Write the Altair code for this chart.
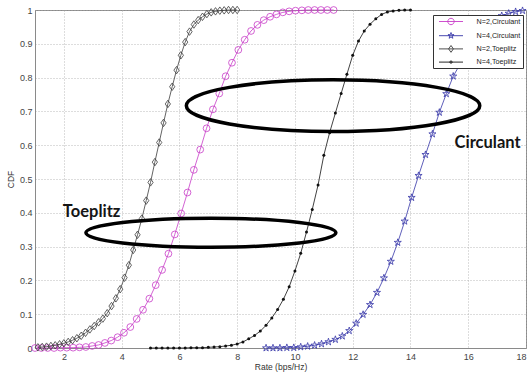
import altair as alt
import pandas as pd

# ---------------- data ----------------
SERIES = ["N=2,Circulant", "N=4,Circulant", "N=2,Toeplitz", "N=4,Toeplitz"]
COLORS = ["#c83cc8", "#3636a8", "#3c3c3c", "#111111"]

circ2_x = [1.00, 1.22, 1.44, 1.66, 1.88, 2.10, 2.32, 2.54, 2.76, 2.98, 3.20, 3.42,
           3.64, 3.86, 4.08, 4.30, 4.52, 4.74, 4.96, 5.18, 5.40, 5.62, 5.84, 6.06,
           6.28, 6.50, 6.72, 6.94, 7.16, 7.38, 7.60, 7.82, 8.04, 8.26, 8.48, 8.70,
           8.92, 9.14, 9.36, 9.58, 9.80, 10.02, 10.24, 10.46, 10.68, 10.90, 11.12, 11.34]
circ2_y = [0.0, 0.0, 0.0, 0.0, 0.001, 0.001, 0.001, 0.002, 0.003, 0.006, 0.009, 0.015,
           0.022, 0.032, 0.045, 0.062, 0.086, 0.113, 0.146, 0.186, 0.231, 0.279, 0.336, 0.398,
           0.46, 0.527, 0.587, 0.65, 0.706, 0.753, 0.804, 0.844, 0.882, 0.912, 0.938, 0.956,
           0.97, 0.98, 0.987, 0.993, 0.996, 0.998, 0.999, 1.0, 1.0, 1.0, 1.0, 1.0]

circ4_x = [9.00, 9.24, 9.48, 9.72, 9.96, 10.20, 10.44, 10.68, 10.92, 11.16, 11.40, 11.64,
           11.88, 12.12, 12.36, 12.60, 12.84, 13.08, 13.32, 13.56, 13.80, 14.04, 14.28, 14.52,
           14.76, 15.00, 15.24, 15.48, 15.72, 15.96, 16.20, 16.44, 16.68, 16.92, 17.16, 17.40,
           17.64, 17.88]
circ4_y = [0.0, 0.0, 0.0, 0.001, 0.001, 0.003, 0.005, 0.008, 0.012, 0.018, 0.025, 0.035,
           0.051, 0.073, 0.099, 0.128, 0.164, 0.207, 0.256, 0.312, 0.375, 0.445, 0.51, 0.572,
           0.633, 0.697, 0.752, 0.804, 0.84, 0.878, 0.91, 0.937, 0.958, 0.973, 0.983, 0.99,
           0.995, 0.998]

toep2_x = [1.10, 1.25, 1.40, 1.55, 1.70, 1.85, 2.00, 2.15, 2.30, 2.45, 2.60, 2.75,
           2.90, 3.05, 3.20, 3.35, 3.50, 3.65, 3.80, 3.95, 4.10, 4.25, 4.40, 4.55,
           4.70, 4.85, 5.00, 5.15, 5.30, 5.45, 5.60, 5.75, 5.90, 6.05, 6.20, 6.35,
           6.50, 6.65, 6.80, 6.95, 7.10, 7.25, 7.40, 7.55, 7.70, 7.85, 8.00]
toep2_y = [0.002, 0.003, 0.004, 0.006, 0.008, 0.011, 0.014, 0.018, 0.023, 0.029, 0.036, 0.045,
           0.055, 0.065, 0.076, 0.087, 0.103, 0.124, 0.147, 0.174, 0.208, 0.245, 0.29, 0.335,
           0.383, 0.436, 0.49, 0.55, 0.608, 0.666, 0.722, 0.773, 0.822, 0.866, 0.905, 0.936,
           0.957, 0.97, 0.98, 0.988, 0.993, 0.996, 0.998, 0.999, 1.0, 1.0, 1.0]

toep4_x = [5.0, 5.2, 5.4, 5.6, 5.8, 6.0, 6.2, 6.4, 6.6, 6.8, 7.0, 7.2,
           7.4, 7.6, 7.8, 8.0, 8.2, 8.4, 8.6, 8.8, 9.0, 9.2, 9.4, 9.6,
           9.8, 10.0, 10.2, 10.4, 10.6, 10.8, 11.0, 11.2, 11.4, 11.6, 11.8, 12.0,
           12.2, 12.4, 12.6, 12.8, 13.0, 13.2, 13.4, 13.6, 13.8, 14.0]
toep4_y = [0.0, 0.0, 0.0, 0.0, 0.0, 0.0, 0.0, 0.001, 0.001, 0.001, 0.002, 0.003,
           0.004, 0.006, 0.008, 0.012, 0.018, 0.027, 0.037, 0.05, 0.067, 0.089, 0.114, 0.144,
           0.181, 0.228, 0.28, 0.343, 0.41, 0.482, 0.57, 0.637, 0.695, 0.753, 0.81, 0.866,
           0.908, 0.938, 0.958, 0.974, 0.987, 0.994, 0.997, 0.999, 1.0, 1.0]

X_TICKS = [2, 4, 6, 8, 10, 12, 14, 16, 18]
Y_TICKS = [0, 0.1, 0.2, 0.3, 0.4, 0.5, 0.6, 0.7, 0.8, 0.9, 1]

ANNOT_TEXT = ["Toeplitz", "Circulant"]
ANNOT_X = [2.96, 16.67]
ANNOT_Y = [0.388, 0.593]

ELLIPSE_X = [11.32, 7.09]
ELLIPSE_Y = [0.717, 0.341]

# ---------------- styles ----------------
STAR = ("M0,-1L0.223,-0.307L0.951,-0.309L0.361,0.117L0.588,0.809L0,0.38"
        "L-0.588,0.809L-0.361,0.117L-0.951,-0.309L-0.223,-0.307Z")
DIAMOND = "M0,-1L0.7,0L0,1L-0.7,0Z"
MARKERS = {
    "N=2,Circulant": dict(shape="circle", size=46, filled=False),
    "N=4,Circulant": dict(shape=STAR, size=56, filled=False),
    "N=2,Toeplitz": dict(shape=DIAMOND, size=56, filled=False),
    "N=4,Toeplitz": dict(shape="circle", size=9, filled=True),
}
LEGEND_SHAPES = [
    "M-3,0L3,0M0.8,0A0.8,0.8 0 1,1 -0.8,0A0.8,0.8 0 1,1 0.8,0",
    "M-3,0L3,0M0,-0.8L0.178,-0.246L0.761,-0.247L0.289,0.094L0.47,0.647L0,0.304"
    "L-0.47,0.647L-0.289,0.094L-0.761,-0.247L-0.178,-0.246Z",
    "M-3,0L3,0M0,-0.85L0.6,0L0,0.85L-0.6,0Z",
    "M-3,0L3,0M0.3,0A0.3,0.3 0 1,1 -0.3,0A0.3,0.3 0 1,1 0.3,0",
]
ELL1 = "M -1 0 A 1 0.176 0 1 0 1 0 A 1 0.176 0 1 0 -1 0 Z"
ELL2 = "M -1 0 A 1 0.116 0 1 0 1 0 A 1 0.116 0 1 0 -1 0 Z"

frames = []
for name, xs, ys in zip(SERIES, [circ2_x, circ4_x, toep2_x, toep4_x],
                        [circ2_y, circ4_y, toep2_y, toep4_y]):
    frames.append(pd.DataFrame({"x": xs, "y": ys, "series": name}))
df = pd.concat(frames, ignore_index=True)

annot = pd.DataFrame({"x": ANNOT_X, "y": ANNOT_Y, "label": ANNOT_TEXT})
ell = pd.DataFrame({"x": ELLIPSE_X, "y": ELLIPSE_Y})

x_enc = alt.X("x:Q", scale=alt.Scale(domain=[1, 18], nice=False, zero=False),
              axis=alt.Axis(values=X_TICKS, title="Rate (bps/Hz)", labelPadding=4,
                            titlePadding=1))
y_enc = alt.Y("y:Q", scale=alt.Scale(domain=[0, 1], nice=False, zero=False),
              axis=alt.Axis(values=Y_TICKS, format="~g", title="CDF", labelPadding=3,
                            titlePadding=4))

layers = []
for name, color in zip(SERIES, COLORS):
    base = alt.Chart(df[df.series == name]).encode(x=x_enc, y=y_enc)
    layers.append(base.mark_line(color=color, strokeWidth=0.8))
    m = MARKERS[name]
    layers.append(base.mark_point(shape=m["shape"], size=m["size"], filled=m["filled"],
                                  color=color, strokeWidth=0.8, opacity=1))

layers.append(alt.Chart(ell.iloc[[0]]).mark_point(
    shape=ELL1, size=86100, filled=False, color="black", strokeWidth=3.5, opacity=1
).encode(x=x_enc, y=y_enc))
layers.append(alt.Chart(ell.iloc[[1]]).mark_point(
    shape=ELL2, size=62500, filled=False, color="black", strokeWidth=3.5, opacity=1
).encode(x=x_enc, y=y_enc))

layers.append(alt.Chart(annot).mark_text(
    font="Lato", fontWeight="bold", fontSize=16.5, color="#151515",
    align="center", baseline="alphabetic"
).encode(x=x_enc, y=y_enc, text="label:N"))

leg = dict(title=None, orient="none", legendX=398, legendY=5, padding=2,
           rowPadding=3.2, symbolSize=64, symbolStrokeWidth=0.9, symbolOffset=11.5,
           labelOffset=21, labelFontSize=7.2, labelFont="Liberation Sans",
           labelColor="#222", strokeColor="#333", fillColor="white", labelLimit=200,
           symbolFillColor="transparent")
layers.append(alt.Chart(df).transform_filter("false").mark_point(
    filled=False, strokeWidth=0.9, opacity=1
).encode(
    x=x_enc, y=y_enc,
    color=alt.Color("series:N", scale=alt.Scale(domain=SERIES, range=COLORS),
                    legend=alt.Legend(**leg)),
    shape=alt.Shape("series:N", scale=alt.Scale(domain=SERIES, range=LEGEND_SHAPES),
                    legend=alt.Legend(**leg)),
))

chart = alt.layer(*layers).properties(
    width=491, height=338,
    padding={"left": 35, "top": 10, "right": 2, "bottom": 24},
    autosize=alt.AutoSizeParams(type="none"),
    background="white",
).configure_view(
    stroke="#8a8a8a", strokeWidth=1
).configure_axis(
    domainColor="#8a8a8a", ticks=False, grid=True, gridColor="#a8a8a8",
    gridDash=[1, 2], gridWidth=0.8, labelFont="Liberation Sans", labelFontSize=9,
    labelColor="#444", titleFont="Liberation Sans", titleFontSize=8.5,
    titleFontWeight="normal", titleColor="#333"
)

chart.save("out.html", embed_options={"renderer": "svg", "actions": False})
